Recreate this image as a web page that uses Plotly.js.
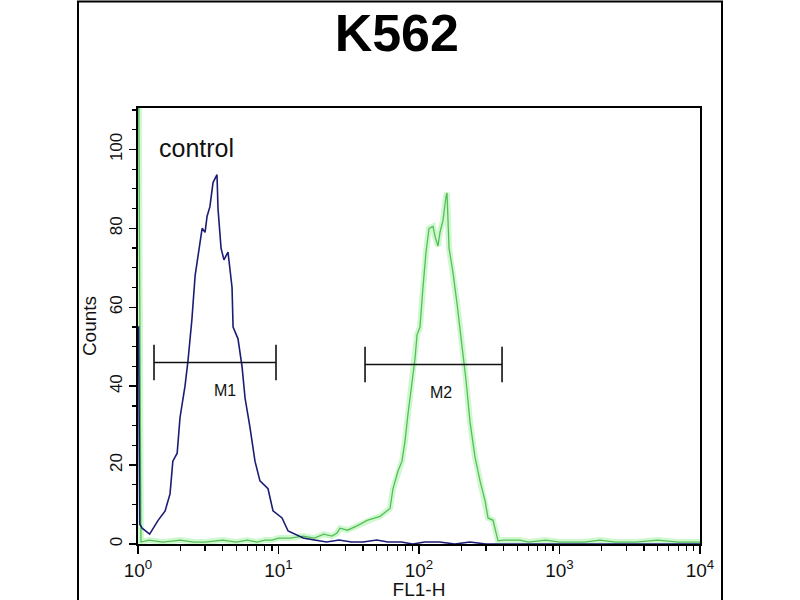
<!DOCTYPE html>
<html>
<head>
<meta charset="utf-8">
<script src="https://cdn.plot.ly/plotly-3.0.1.min.js"></script>
<style>html,body{margin:0;padding:0;background:#fff}#chart{width:800px;height:600px}</style>
</head>
<body>
<div id="chart"></div>
<script>
// Control histogram (blue)
var controlFL1 = [1.0,1.01,1.03,1.07,1.21,1.39,1.56,1.69,1.77,1.90,1.99,2.16,2.27,2.42,2.55,2.67,2.86,3.00,3.10,3.25,3.42,3.65,3.71,3.90,4.09,4.37,4.67,4.75,5.15,5.50,5.78,6.27,6.80,7.38,8.42,9.14,10.6,11.7,13.1,15,18,22,27,33,40,50,60,75,90,110,140,180,230,300,400,600,1000,2000,5000,10000];
var controlCounts = [55,55,5,4,2.5,6,8.4,12.7,21,23,32,40,46.5,57,68,73,80,79,83,85.5,91.6,93.6,85,75,72,74,65,55,52,45,37,29.5,21,16,14,8.4,6.6,3.3,2.5,1.5,1,0.5,1,0.5,0.5,1,0.5,0.5,0,0.5,0.5,0,0.5,0,0,0,0,0,0,0];
// Sample histogram (green)
var sampleFL1 = [1.0,1.01,1.05,1.2,1.5,2,2.5,3,4,5,6,7,8,9,10,12.1,15,18,21,24,26.1,27.4,31,36.2,42.7,48,52.8,55.4,62.2,65.3,70.9,75.7,79.5,83.5,89.2,93.7,96.8,101.6,106.7,112.2,117.8,125.8,130,136.5,141,148.2,155.6,158.2,163.6,174.6,186.4,195.8,205.6,216.1,230.6,250.4,271.8,295.1,309.8,336.4,365.1,400,450,523,600,800,1000,1500,1941,2500,3500,5000,7000,10000];
var sampleCounts = [120,120,0.5,1,0.5,1,0.5,0.5,1,0.5,1,0.5,1,1,1.5,1.5,2,1.5,2.5,2,2.8,4,3.5,4.6,6,6.5,7,7.6,9,14,18.5,21,26,33,41.5,47,53,55,65,74,80,80.5,78,75.5,79,82,88,89,75,68.7,61,55,49,41.5,31,22,16,11,6.6,6,0.8,1,1,1,0.5,1,0.5,0.5,1,0.5,0.5,1,0.5,0.5];
// Gates
var gateNames = ['M1','M2'];
var gateLow = [1.30, 41.3];
var gateHigh = [9.6, 390];
var gateLevel = [46, 45.5];
var gateLabelX = [4.16, 143.5];
var gateLabelY = [39, 38.3];
// Axis ticks
var xTickVals = [1,10,100,1000,10000];
var xTickText = ['10<sup>0</sup>','10<sup>1</sup>','10<sup>2</sup>','10<sup>3</sup>','10<sup>4</sup>'];
var yTickVals = [0,20,40,60,80,100];

var traces = [];
traces.push({x: sampleFL1, y: sampleCounts, mode:'lines', line:{color:'rgba(120,235,120,0.35)', width:6}, hoverinfo:'skip', showlegend:false});
traces.push({x: sampleFL1, y: sampleCounts, mode:'lines', line:{color:'rgb(85,190,85)', width:1.3}, name:'K562', showlegend:false});
traces.push({x: controlFL1, y: controlCounts, mode:'lines', line:{color:'#1c1c74', width:1.6}, name:'control', showlegend:false});

var annotations = [];
var tickHalf = 4.5;
for (var i = 0; i < gateNames.length; i++) {
  traces.push({x:[gateLow[i], gateHigh[i]], y:[gateLevel[i], gateLevel[i]], mode:'lines', line:{color:'#111', width:1.6}, hoverinfo:'skip', showlegend:false});
  traces.push({x:[gateLow[i], gateLow[i]], y:[gateLevel[i]-tickHalf, gateLevel[i]+tickHalf], mode:'lines', line:{color:'#111', width:1.6}, hoverinfo:'skip', showlegend:false});
  traces.push({x:[gateHigh[i], gateHigh[i]], y:[gateLevel[i]-tickHalf, gateLevel[i]+tickHalf], mode:'lines', line:{color:'#111', width:1.6}, hoverinfo:'skip', showlegend:false});
  annotations.push({x: Math.log10(gateLabelX[i]), y: gateLabelY[i], xref:'x', yref:'y', text: gateNames[i], showarrow:false, font:{family:'Liberation Sans, Arial, sans-serif', size:16, color:'#111'}});
}
annotations.push({x: Math.log10(2.6), y: 100.3, xref:'x', yref:'y', text:'control', showarrow:false, font:{family:'Liberation Sans, Arial, sans-serif', size:25, color:'#111'}});

var layout = {
  width: 800, height: 600,
  margin: {l:138, r:100, t:108, b:56},
  paper_bgcolor:'#fff', plot_bgcolor:'#fff',
  font: {family:'Liberation Sans, Arial, sans-serif', color:'#111'},
  title: {text:'<b>K562</b>', x:0.496, xref:'container', xanchor:'center', y:0.945, yref:'container', yanchor:'middle', font:{size:52, color:'#000', family:'Liberation Sans, Arial, sans-serif'}},
  xaxis: {
    type:'log', range:[0,4], tickvals:xTickVals, ticktext:xTickText,
    ticks:'outside', ticklen:8, tickwidth:1.5, tickcolor:'#000',
    minor:{ticks:'outside', ticklen:5, tickwidth:1.2, tickcolor:'#000', dtick:'D1', showgrid:false},
    showline:true, linecolor:'#000', linewidth:2, mirror:true,
    showgrid:false, zeroline:false,
    tickfont:{size:19, color:'#111'},
    title:{text:'FL1-H', font:{size:19, color:'#111'}, standoff:2}
  },
  yaxis: {
    range:[0,110.5], tickvals:yTickVals, tickangle:-90,
    ticks:'outside', ticklen:7, tickwidth:1.5, tickcolor:'#000',
    minor:{ticks:'outside', ticklen:4, tickwidth:1.2, tickcolor:'#000', dtick:5, showgrid:false},
    showline:true, linecolor:'#000', linewidth:2, mirror:true,
    showgrid:false, zeroline:false,
    tickfont:{size:17, color:'#111'},
    title:{text:'Counts', font:{size:19, color:'#111'}, standoff:6}
  },
  annotations: annotations,
  shapes: [
    {type:'rect', xref:'paper', yref:'paper', x0:(78-138)/562, x1:(722-138)/562, y0:(544-606)/436, y1:(544-1.5)/436, line:{color:'#000', width:2}, fillcolor:'rgba(0,0,0,0)', layer:'below'}
  ]
};

Plotly.newPlot('chart', traces, layout, {staticPlot:true, displayModeBar:false});
</script>
</body>
</html>
